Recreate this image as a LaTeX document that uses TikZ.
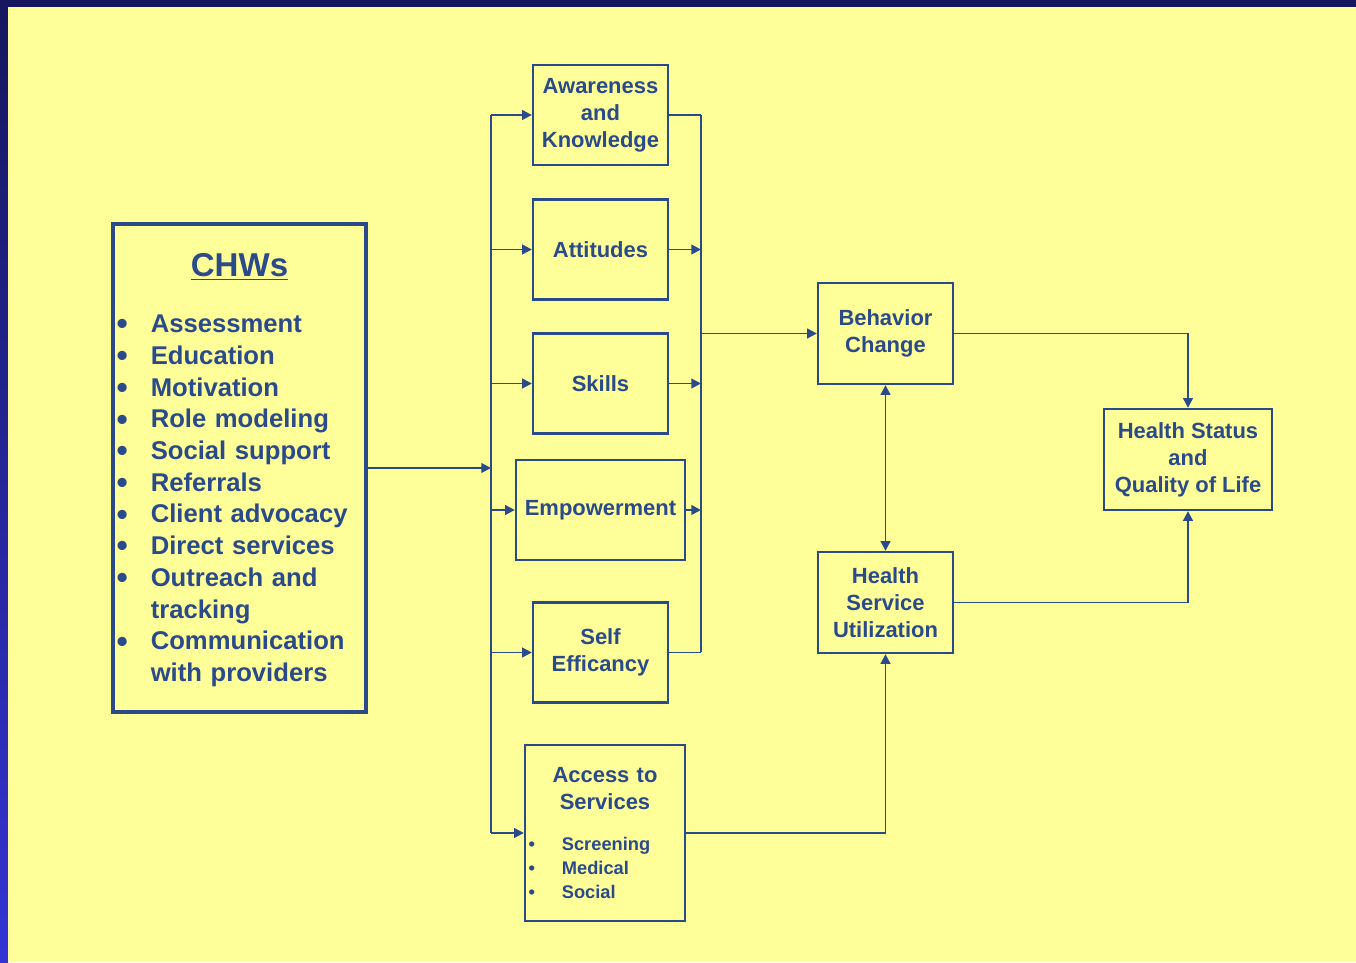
\documentclass[tikz,border=0pt]{standalone}
\usepackage{fontspec}
\setmainfont{Liberation Sans}
\usepackage{tikz}
\usetikzlibrary{arrows.meta,positioning}
\definecolor{bleuTrait}{RGB}{42,74,138}
\definecolor{jauneFond}{RGB}{255,255,153}
\definecolor{bleuNuit}{RGB}{22,23,94}
\definecolor{bleuVif}{RGB}{52,52,212}
\newcommand{\chwItem}[1]{\par\noindent\makebox[21.5pt][l]{\hspace{2pt}\raisebox{-1.3pt}{\scalebox{1.25}{\textbullet}}}#1}
\newcommand{\chwCont}[1]{\par\noindent\hspace*{21.5pt}#1}
\newcommand{\accItem}[1]{\par\noindent\makebox[21pt][l]{\hspace{2pt}\textbullet}#1}

\begin{document}
\begin{tikzpicture}[
			box/.style={draw=bleuTrait, line width=1.3pt, fill=jauneFond, text=bleuTrait,
				align=center, minimum width=2.7cm, minimum height=2cm, inner sep=0pt,
				font=\bfseries\fontsize{12.5}{15.3}\selectfont},
			arrow/.style={-{Triangle[length=5.5pt,width=5.5pt]}, line width=1.1pt, color=bleuTrait},
			twoway/.style={{Triangle[length=5.5pt,width=5.5pt]}-{Triangle[length=5.5pt,width=5.5pt]}, line width=1.1pt, color=bleuTrait},
			link/.style={line width=1.1pt, color=bleuTrait}
			]
			% frame and background
			\useasboundingbox (0,0) rectangle (27.12,19.24);
			\fill[bleuNuit] (0,0) rectangle (27.12,19.24);
			\shade[top color=bleuNuit, bottom color=bleuVif] (0,0) rectangle (0.16,19.10);
			\fill[jauneFond] (0.16,0) rectangle (27.12,19.10);
			
			\node[box, line width=2pt, minimum width=5.06cm, minimum height=9.76cm, text width=5.06cm, align=left,
				font=\bfseries\fontsize{14.6}{18.05}\selectfont] (chws) at (4.79,9.88) {%
				\makebox[5.06cm]{\fontsize{18.8}{22}\selectfont\underline{CHWs}}\par\vspace{14pt}%
				\chwItem{Assessment}\chwItem{Education}\chwItem{Motivation}\chwItem{Role modeling}%
				\chwItem{Social support}\chwItem{Referrals}\chwItem{Client advocacy}\chwItem{Direct services}%
				\chwItem{Outreach and}\chwCont{tracking}\chwItem{Communication}\chwCont{with providers}\par
				\vspace*{-2.3pt}};
			
			\node[box] (aware) at (12.01,16.94)  {Awareness\\and\\Knowledge};
			\node[box] (attit) at (12.01,14.25)  {Attitudes};
			\node[box] (skills) at (12.01,11.57) {Skills};
			\node[box, minimum width=3.38cm] (empow) at (12.01,9.04) {Empowerment};
			\node[box] (self) at (12.01,6.19)    {Self\\Efficancy};
			\node[box, minimum width=3.2cm, minimum height=3.52cm, text width=3.2cm, align=left] (access) at (12.10,2.58) {%
				{\centering Access to\\Services\par}\vspace{10pt}%
				{\fontsize{10.4}{13.6}\selectfont\accItem{Screening}\accItem{Medical}\accItem{Social}\par}};
			\node[box, minimum height=2.02cm] (behav) at (17.71,12.57) {Behavior\\Change};
			\node[box, minimum height=2.02cm] (hsu) at (17.71,7.19)    {Health\\Service\\Utilization};
			\node[box, minimum width=3.36cm, minimum height=2.02cm] (health) at (23.76,10.05) {Health Status\\and\\Quality of Life};
			
			\coordinate (busL) at (9.82,0);
			\coordinate (busR) at (14.02,0);
			
			% CHWs to the first column
			\draw[arrow] (chws.east) -- (chws.east -| busL);
			\draw[link] (aware.west -| busL) -- (access.west -| busL);
			\foreach \n in {aware,attit,skills,empow,self,access}
				\draw[arrow] (\n.west -| busL) -- (\n.west);
			
			% first column to behavior change
			\draw[link] (aware.east -| busR) -- (self.east -| busR);
			\draw[link] (aware.east) -- (aware.east -| busR);
			\draw[link] (self.east) -- (self.east -| busR);
			\foreach \n in {attit,skills,empow}
				\draw[arrow] (\n.east) -- (\n.east -| busR);
			\draw[arrow] (behav.west -| busR) -- (behav.west);
			
			\draw[twoway] (behav) -- (hsu);
			\draw[arrow] (access.east) -| (hsu.south);
			\draw[arrow] (behav.east) -| (health.north);
			\draw[arrow] (hsu.east) -| (health.south);
		\end{tikzpicture}
\end{document}
